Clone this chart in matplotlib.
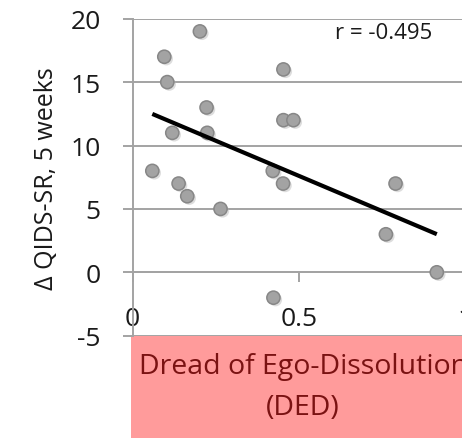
import numpy as np
import matplotlib.pyplot as plt
from matplotlib.patches import Rectangle
import matplotlib.patheffects as pe

plt.rcParams['font.family'] = ['Open Sans', 'DejaVu Sans']
plt.rcParams['axes.unicode_minus'] = False

# DED score vs change in QIDS-SR after 5 weeks
ded = np.array([0.202, 0.095, 0.104, 0.453, 0.222, 0.453, 0.483, 0.119, 0.224, 0.059,
                0.138, 0.164, 0.264, 0.421, 0.452, 0.790, 0.761, 0.914, 0.423])
dqids = np.array([19, 17, 15, 16, 13, 12, 12, 11, 11, 8,
                  7, 6, 5, 8, 7, 7, 3, 0, -2])
r_label = "r = -0.495"
y_ticks = [-5, 0, 5, 10, 15, 20]
x_ticks = [0, 0.5, 1]
x_ticklabels = ["0", "0.5", "1"]

fig = plt.figure(figsize=(4.62, 4.39), dpi=100)
ax = fig.add_axes([0.2872, 0.2330, 0.7202, 0.7221])

grey = '#a3a3a3'
ink = '#1a1a1a'
ax.set_xlim(0, 1)
ax.set_ylim(-5, 20)
ax.set_yticks(y_ticks)
ax.set_xticks(x_ticks)
ax.set_xticklabels(x_ticklabels)
ax.grid(axis='y', color=grey, lw=1.4)
ax.set_axisbelow(True)

for s in ['top', 'right']:
    ax.spines[s].set_visible(False)
ax.spines['left'].set_color(grey)
ax.spines['left'].set_linewidth(1.4)
ax.spines['bottom'].set_position(('data', 0))
ax.spines['bottom'].set_color(grey)
ax.spines['bottom'].set_linewidth(1.4)

ax.tick_params(axis='y', direction='out', length=7, width=1.4, color=grey,
               labelsize=19, pad=16, labelcolor=ink)
ax.tick_params(axis='x', direction='out', length=7, width=1.4, color=grey,
               labelsize=19, pad=17, labelcolor=ink)

ax.scatter(ded, dqids, s=90, c='#a3a3a3', edgecolors='#878787', linewidths=1.1,
           zorder=3,
           path_effects=[pe.SimplePatchShadow(offset=(1.5, -1.5), shadow_rgbFace='#b5b5b5', alpha=0.45),
                         pe.Normal()])

# least squares trend line
slope, icpt = np.polyfit(ded, dqids, 1)
xs = np.array([ded.min(), ded.max()])
ax.plot(xs, slope * xs + icpt, color='black', lw=3, solid_capstyle='butt', zorder=4)

ax.text(0.755, 18.9, r_label, ha='center', va='center', fontsize=16, color=ink)

ax.set_ylabel("Δ QIDS-SR, 5 weeks", fontsize=18, color=ink)
ax.yaxis.set_label_coords(-0.222, 0.5)

# category box under the plot
fig.add_artist(Rectangle((0.2835, 0), 0.8, 0.2323, transform=fig.transFigure,
                         facecolor='#ff9b9b', edgecolor='none', zorder=-1))
fig.text(0.656, 0.164, "Dread of Ego-Dissolution", ha='center', va='center',
         fontsize=20.5, color='#7a1212')
fig.text(0.656, 0.0706, "(DED)", ha='center', va='center',
         fontsize=20.5, color='#7a1212')

fig.savefig('out.png', dpi=100)
